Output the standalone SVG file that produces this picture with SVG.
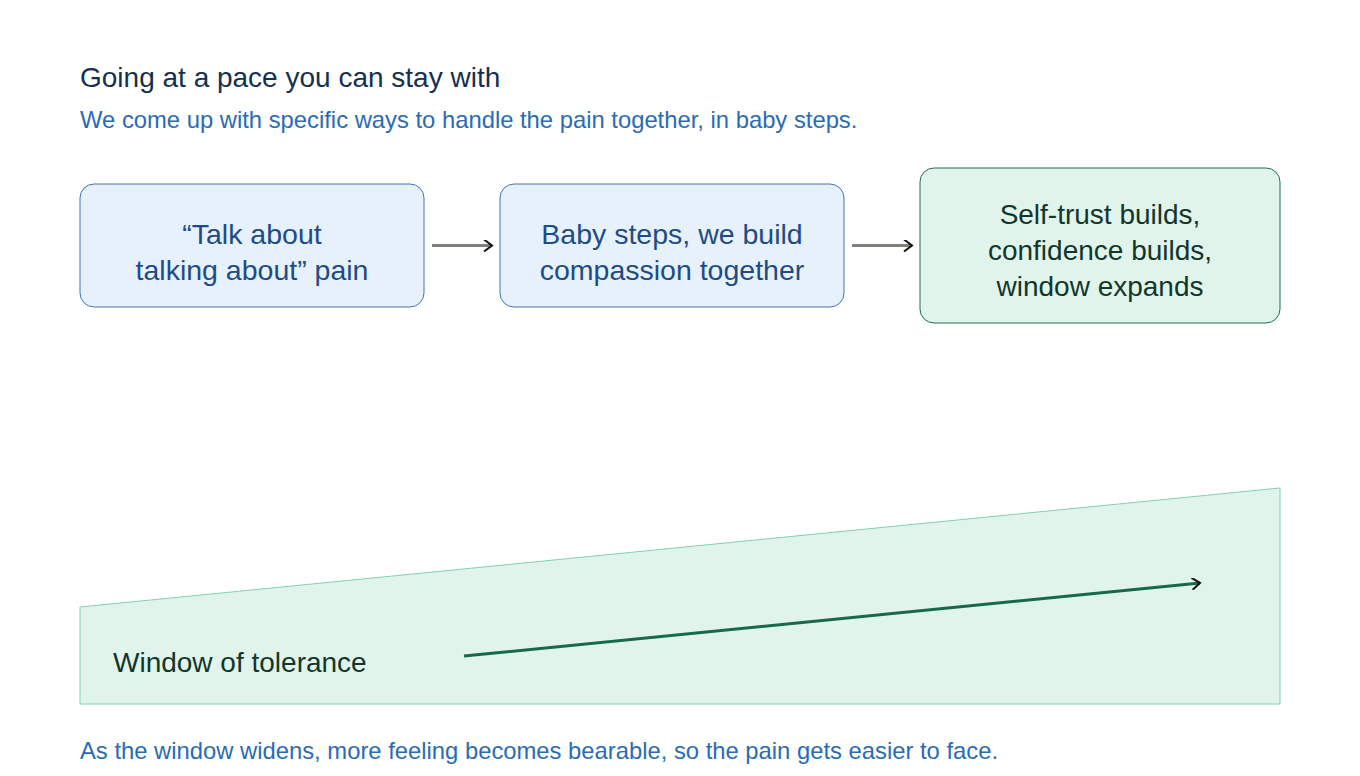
<svg xmlns="http://www.w3.org/2000/svg" width="1360" height="776" viewBox="0 0 1360 776">
<style>
text{font-family:"Liberation Sans",Arial,sans-serif}
.blue rect{fill:#e7f1fb;stroke:#3f75b5;stroke-width:1}
.blue text{fill:#1f4c86;font-size:28.5px;text-anchor:middle}
.green rect{fill:#e1f4ec;stroke:#1e6e4c;stroke-width:1}
.green text{fill:#12372a;font-size:28px;text-anchor:middle}
</style>
<defs>
<marker id="ah" markerWidth="12" markerHeight="12" refX="10" refY="6" orient="auto" markerUnits="userSpaceOnUse">
<path d="M2,0 L10,6 L2,12" fill="none" stroke="#111" stroke-width="2"/>
</marker>
</defs>
<rect width="1360" height="776" fill="#fff"/>
<text x="80" y="87" font-size="28" fill="#15304f">Going at a pace you can stay with</text>
<text x="80" y="128" font-size="23.8" fill="#2a6bb3">We come up with specific ways to handle the pain together, in baby steps.</text>
<g id="n1" class="blue"><rect x="80" y="184" width="344" height="123" rx="14"/><text x="252" y="244">“Talk about</text><text x="252" y="280">talking about” pain</text></g>
<g id="n2" class="blue"><rect x="500" y="184" width="344" height="123" rx="14"/><text x="672" y="244">Baby steps, we build</text><text x="672" y="280">compassion together</text></g>
<g id="n3" class="green"><rect x="920" y="168" width="360" height="155" rx="14"/><text x="1100" y="224">Self-trust builds,</text><text x="1100" y="260">confidence builds,</text><text x="1100" y="296">window expands</text></g>
<g id="window"><polygon points="80,607 1280,488 1280,704 80,704" fill="#e1f4ec" stroke="#7fd3ae" stroke-width="1"/>
<text x="113" y="672" font-size="28" fill="#12372a">Window of tolerance</text></g>
<g id="connectors">
<line x1="432" y1="245.5" x2="492" y2="245.5" stroke="#80827a" stroke-width="3" marker-end="url(#ah)"/>
<line x1="852" y1="245.5" x2="912" y2="245.5" stroke="#80827a" stroke-width="3" marker-end="url(#ah)"/>
<line x1="464" y1="656" x2="1200" y2="583" stroke="#16694b" stroke-width="3" marker-end="url(#ah)"/>
</g>
<text x="80" y="759" font-size="23.8" fill="#2a6bb3">As the window widens, more feeling becomes bearable, so the pain gets easier to face.</text>
</svg>
